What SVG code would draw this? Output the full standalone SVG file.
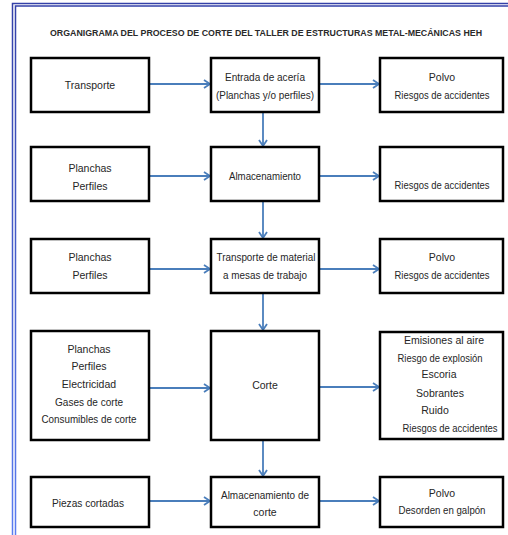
<svg xmlns="http://www.w3.org/2000/svg" width="508" height="535" viewBox="0 0 508 535">
<defs>
<marker id="ah" markerWidth="10" markerHeight="10" refX="7.5" refY="5" orient="auto" markerUnits="userSpaceOnUse">
<path d="M1.5,1 L7.5,5 L1.5,9" fill="none" stroke="#4a7ebb" stroke-width="1.8"/>
</marker>
<linearGradient id="fr" x1="0" y1="0" x2="0" y2="1">
<stop offset="0" stop-color="#3340a8"/>
<stop offset="1" stop-color="#5a7cf0"/>
</linearGradient>
</defs>
<style>
.box{fill:#fff;stroke:#000;stroke-width:2.5}
.t{font-family:"Liberation Sans","DejaVu Sans",sans-serif;font-size:10.5px;fill:#262626;text-anchor:middle}
.ttl{font-family:"Liberation Sans","DejaVu Sans",sans-serif;font-size:9px;font-weight:bold;fill:#2a2a2a;text-anchor:middle}
.c{fill:none;stroke:#4a7ebb;stroke-width:1.8;marker-end:url(#ah)}
</style>
<rect width="508" height="535" fill="#fff"/>
<g id="frame">
<path d="M12.5,535 V3.5 H508" fill="none" stroke="url(#fr)" stroke-width="1.5"/>
<path d="M15.5,535 V6 H508" fill="none" stroke="url(#fr)" stroke-width="1.5"/>
</g>
<text class="ttl" x="266" y="35.5" textLength="432" lengthAdjust="spacingAndGlyphs">ORGANIGRAMA DEL PROCESO DE CORTE DEL TALLER DE ESTRUCTURAS METAL-MECÁNICAS HEH</text>

<g id="connectors">
<line class="c" x1="149" y1="84" x2="210" y2="84"/>
<line class="c" x1="319" y1="84" x2="379" y2="84"/>
<line class="c" x1="263" y1="112" x2="263" y2="146"/>
<line class="c" x1="149" y1="176" x2="210" y2="176"/>
<line class="c" x1="319" y1="176" x2="379" y2="176"/>
<line class="c" x1="263" y1="201" x2="263" y2="238"/>
<line class="c" x1="149" y1="269" x2="210" y2="269"/>
<line class="c" x1="319" y1="269" x2="379" y2="269"/>
<line class="c" x1="263" y1="293" x2="263" y2="330"/>
<line class="c" x1="149" y1="388" x2="210" y2="388"/>
<line class="c" x1="319" y1="387" x2="379" y2="387"/>
<line class="c" x1="263" y1="440" x2="263" y2="476"/>
<line class="c" x1="149" y1="501" x2="210" y2="501"/>
<line class="c" x1="319" y1="501" x2="379" y2="501"/>
</g>

<g id="n-transporte"><rect class="box" x="31" y="58" width="118" height="54"/>
<text class="t" x="90" y="89">Transporte</text></g>
<g id="n-entrada"><rect class="box" x="211" y="58" width="108" height="54"/>
<text class="t" x="265" y="81" textLength="80" lengthAdjust="spacingAndGlyphs">Entrada de acería</text><text class="t" x="265" y="99" textLength="98" lengthAdjust="spacingAndGlyphs">(Planchas y/o perfiles)</text></g>
<g id="n-r1"><rect class="box" x="380" y="58" width="123" height="54"/>
<text class="t" x="442" y="81">Polvo</text><text class="t" x="442" y="99" textLength="95" lengthAdjust="spacingAndGlyphs">Riesgos de accidentes</text></g>

<g id="n-pp1"><rect class="box" x="31" y="147" width="118" height="54"/>
<text class="t" x="90" y="172">Planchas</text><text class="t" x="90" y="190">Perfiles</text></g>
<g id="n-alm"><rect class="box" x="211" y="147" width="108" height="54"/>
<text class="t" x="265" y="180" textLength="72" lengthAdjust="spacingAndGlyphs">Almacenamiento</text></g>
<g id="n-r2"><rect class="box" x="380" y="147" width="123" height="54"/>
<text class="t" x="442" y="189" textLength="95" lengthAdjust="spacingAndGlyphs">Riesgos de accidentes</text></g>

<g id="n-pp2"><rect class="box" x="31" y="239" width="118" height="54"/>
<text class="t" x="90" y="261">Planchas</text><text class="t" x="90" y="279">Perfiles</text></g>
<g id="n-transmat"><rect class="box" x="211" y="239" width="108" height="54"/>
<text class="t" x="266" y="261" textLength="99" lengthAdjust="spacingAndGlyphs">Transporte de material</text><text class="t" x="265" y="279" textLength="84" lengthAdjust="spacingAndGlyphs">a mesas de trabajo</text></g>
<g id="n-r3"><rect class="box" x="380" y="239" width="123" height="54"/>
<text class="t" x="442" y="261">Polvo</text><text class="t" x="442" y="279" textLength="95" lengthAdjust="spacingAndGlyphs">Riesgos de accidentes</text></g>

<g id="n-insumos"><rect class="box" x="31" y="331" width="118" height="109"/>
<text class="t" x="89" y="353">Planchas</text><text class="t" x="89" y="370">Perfiles</text><text class="t" x="89" y="388">Electricidad</text><text class="t" x="89" y="406" textLength="68" lengthAdjust="spacingAndGlyphs">Gases de corte</text><text class="t" x="89" y="423" textLength="95" lengthAdjust="spacingAndGlyphs">Consumibles de corte</text></g>
<g id="n-corte"><rect class="box" x="211" y="331" width="108" height="109"/>
<text class="t" x="265" y="389">Corte</text></g>
<g id="n-r4"><rect class="box" x="380" y="332" width="123" height="107"/>
<text class="t" x="444" y="344" textLength="80" lengthAdjust="spacingAndGlyphs">Emisiones al aire</text><text class="t" x="440" y="362" textLength="85" lengthAdjust="spacingAndGlyphs">Riesgo de explosión</text><text class="t" x="439" y="378">Escoria</text><text class="t" x="440" y="397">Sobrantes</text><text class="t" x="435" y="414">Ruido</text><text class="t" x="450" y="432" textLength="95" lengthAdjust="spacingAndGlyphs">Riesgos de accidentes</text></g>

<g id="n-piezas"><rect class="box" x="31" y="477" width="118" height="50"/>
<text class="t" x="88" y="507" textLength="72" lengthAdjust="spacingAndGlyphs">Piezas cortadas</text></g>
<g id="n-almcorte"><rect class="box" x="211" y="477" width="108" height="50"/>
<text class="t" x="265" y="499" textLength="88" lengthAdjust="spacingAndGlyphs">Almacenamiento de</text><text class="t" x="265" y="516">corte</text></g>
<g id="n-r5"><rect class="box" x="380" y="477" width="123" height="50"/>
<text class="t" x="442" y="497">Polvo</text><text class="t" x="442" y="514" textLength="87" lengthAdjust="spacingAndGlyphs">Desorden en galpón</text></g>
</svg>
